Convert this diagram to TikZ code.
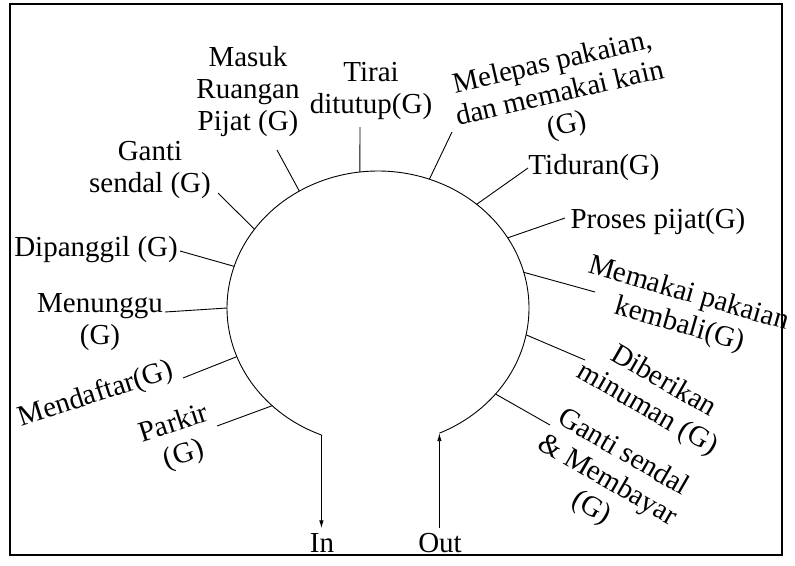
\documentclass[tikz,border=0pt]{standalone}
\usepackage{fontspec}
\setmainfont{Liberation Serif}
\usetikzlibrary{arrows.meta}
\begin{document}
\begin{tikzpicture}[x=1pt,y=-1pt,
  lbl/.style={font=\fontsize{29}{32}\selectfont, align=center, inner sep=0pt},
  tick/.style={line width=0.9pt},
  flow/.style={line width=0.9pt, -{Latex[length=8pt,width=4.5pt]}}]
\useasboundingbox (0,0) rectangle (795,565);
% outer frame
\draw[line width=2pt] (10,4) rectangle (782,555);

% the ring of steps (open at the bottom)
\draw[tick] plot[domain=66:-248,samples=240] ({378+151*cos(\x)},{308+137*sin(\x)});
\foreach \n/\t in {in/112, out/66, masuk/-121.4, tirai/-96.9, ganti/-144.9,
    dipanggil/-162.3, menunggu/-180, mendaftar/-200.8, parkir/-225.5,
    melepas/-70.1, tiduran/-49.2, proses/-30.8, memakai/-15.1,
    diberikan/11.3, gantibayar/38.9}
  \coordinate (r-\n) at ({378+151*cos(\t)},{308+137*sin(\t)});

% step labels
\node[lbl] (masuk) at (248,92) {Masuk\\Ruangan\\Pijat (G)};
\node[lbl] (tirai) at (371,91) {Tirai\\ditutup(G)};
\node[lbl] (ganti) at (150,170) {Ganti\\sendal (G)};
\node[lbl] (dipanggil) at (96,250) {Dipanggil (G)};
\node[lbl] (menunggu) at (100,322) {Menunggu\\(G)};
\node[lbl, rotate=18] (mendaftar) at (96,395) {Mendaftar(G)};
\node[lbl, rotate=18] (parkir) at (179,440) {Parkir\\(G)};
\node[lbl, rotate=13] (melepas) at (560,95) {Melepas pakaian,\\dan memakai kain\\(G)};
\node[lbl] (tiduran) at (594,168) {Tiduran(G)};
\node[lbl] (proses) at (658,222) {Proses pijat(G)};
\node[lbl, rotate=-16] (memakai) at (684,310) {Memakai pakaian\\kembali(G)};
\node[lbl, rotate=-30] (diberikan) at (655,396) {Diberikan\\minuman (G)};
\node[lbl, rotate=-30] (gantibayar) at (607,481) {Ganti sendal\\\& Membayar\\(G)};
\node[lbl] (in) at (322,543) {In};
\node[lbl] (out) at (440,543) {Out};

% free ends of the label ticks
\coordinate (t-masuk) at (277,150);
\coordinate (t-tirai) at (360,127);
\coordinate (t-ganti) at (218,193);
\coordinate (t-dipanggil) at (180,251);
\coordinate (t-menunggu) at (165,312);
\coordinate (t-mendaftar) at (183,378);
\coordinate (t-parkir) at (217,426);
\coordinate (t-melepas) at (452,132);
\coordinate (t-tiduran) at (528,168);
\coordinate (t-proses) at (565,218);
\coordinate (t-memakai) at (595,292);
\coordinate (t-diberikan) at (585,360);
\coordinate (t-gantibayar) at (550,425);

\foreach \n in {masuk, tirai, ganti, dipanggil, menunggu, mendaftar, parkir,
    melepas, tiduran, proses, memakai, diberikan, gantibayar}
  \draw[tick] (t-\n) -- (r-\n);

% entry and exit
\draw[flow, shorten >=5pt] (r-in) -- (r-in |- in.north);
\draw[flow, shorten <=5pt] (r-out |- out.north) -- (r-out);
\end{tikzpicture}
\end{document}
